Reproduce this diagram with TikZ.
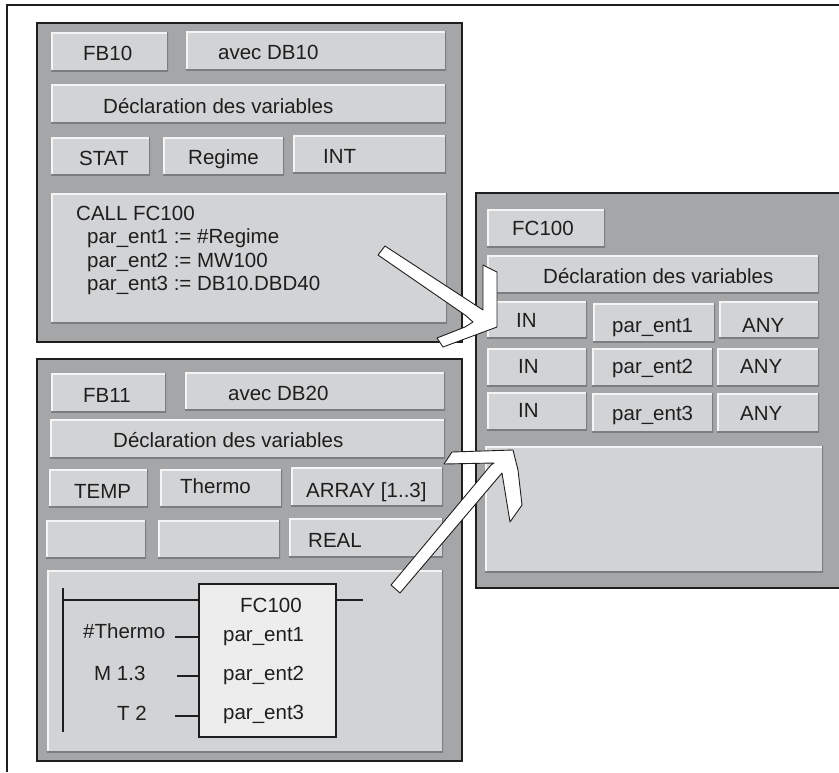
\documentclass[tikz,border=0pt]{standalone}
\usepackage{fontspec}
\setmainfont{Liberation Sans}
\usetikzlibrary{fit}
\definecolor{panelfill}{HTML}{A5A6A8}
\definecolor{btnfill}{HTML}{D2D3D5}
\definecolor{btnhl}{HTML}{F4F4F4}
\definecolor{btnsh}{HTML}{7C7D7F}
\definecolor{ink}{HTML}{1E1E1E}
\definecolor{fcfill}{HTML}{EDEDED}
\begin{document}
\begin{tikzpicture}[x=1pt,y=-1pt,
  panel/.style={draw=ink, line width=1.6pt, fill=panelfill, inner sep=0pt, outer sep=0pt},
  btn/.style={fill=btnfill, inner sep=0pt, outer sep=0pt, path picture={
    \draw[btnhl, line width=3pt] (path picture bounding box.south west) -- (path picture bounding box.north west) -- (path picture bounding box.north east);
    \draw[btnsh, line width=3pt] (path picture bounding box.north east) -- (path picture bounding box.south east) -- (path picture bounding box.south west);}},
  lbl/.style={anchor=base west, inner sep=0pt, text=ink, font=\fontsize{20.5}{24}\selectfont},
  wire/.style={draw=ink, line width=1.3pt},
  fcbody/.style={draw=ink, line width=1.3pt, fill=fcfill, inner sep=0pt, outer sep=0pt},
  blockarrow/.style={fill=white, draw=ink, line width=0.9pt, line join=round}
]
\useasboundingbox (0,0) rectangle (839,772);
\fill[white] (0,0) rectangle (839,772);
\draw[ink, line width=2pt] (7,772) -- (7,5) -- (839,5);

% ---------- Panel FB10 ----------
\node[panel, fit={(37,23) (462,342)}] (p1) {};
\node[btn, fit={(51,32) (168,71)}] (fb10) {};
\node[btn, fit={(186,31) (446,70)}] (db10) {};
\node[btn, fit={(51,84) (446,123)}] (decl1) {};
\node[btn, fit={(51,137) (150,175)}] (stat) {};
\node[btn, fit={(163,137) (284,175)}] (regime) {};
\node[btn, fit={(293,135) (446,173)}] (int) {};
\node[btn, fit={(51,193) (447,323)}] (code1) {};
\node[lbl] (tfb10) at (83,60) {FB10};
\node[lbl] (tdb10) at (218,59) {avec DB10};
\node[lbl] (tdecl1) at (103,113) {Déclaration des variables};
\node[lbl] (tstat) at (79,165) {STAT};
\node[lbl] (tregime) at (188,164) {Regime};
\node[lbl] (tint) at (323,163) {INT};
\node[lbl] (tc1) at (76,220) {CALL FC100};
\node[lbl] (tc2) at (87,243) {par\_ent1 := \#Regime};
\node[lbl] (tc3) at (87,267) {par\_ent2 := MW100};
\node[lbl] (tc4) at (87,290) {par\_ent3 := DB10.DBD40};

% ---------- Panel FB11 ----------
\node[panel, fit={(37,359) (462,761)}] (p2) {};
\node[btn, fit={(51,373) (166,412)}] (fb11) {};
\node[btn, fit={(185,372) (445,410)}] (db20) {};
\node[btn, fit={(50,419) (445,458)}] (decl2) {};
\node[btn, fit={(49,469) (148,507)}] (temp) {};
\node[btn, fit={(160,469) (282,507)}] (thermo) {};
\node[btn, fit={(291,467) (443,506)}] (array) {};
\node[btn, fit={(46,520) (146,558)}] (empty1) {};
\node[btn, fit={(158,520) (280,558)}] (empty2) {};
\node[btn, fit={(289,518) (443,557)}] (real) {};
\node[btn, fit={(47,570) (443,752)}] (lad) {};
\node[lbl] (tfb11) at (83,402) {FB11};
\node[lbl] (tdb20) at (228,400) {avec DB20};
\node[lbl] (tdecl2) at (113,447) {Déclaration des variables};
\node[lbl] (ttemp) at (74,498) {TEMP};
\node[lbl] (tthermo) at (180,493) {Thermo};
\node[lbl] (tarray) at (306,497) {ARRAY [1..3]};
\node[lbl] (treal) at (308,547) {REAL};

% ladder network
\node[fcbody, fit={(199,584) (336,737)}] (fcbox) {};
\coordinate (railtop) at (63,588);
\coordinate (railbot) at (63,732);
\draw[wire] (railtop) -- (railbot);
\coordinate (r1) at (63,600);
\coordinate (out) at (363,600);
\draw[wire] (r1) -- (r1 -| fcbox.west);
\draw[wire] (fcbox.east |- out) -- (out);
\coordinate (i1) at (175,637);
\coordinate (i2) at (177,676);
\coordinate (i3) at (175,716);
\draw[wire] (i1) -- (i1 -| fcbox.west);
\draw[wire] (i2) -- (i2 -| fcbox.west);
\draw[wire] (i3) -- (i3 -| fcbox.west);
\node[lbl] (tfcb) at (240,612) {FC100};
\node[lbl] (tpb1) at (223,641) {par\_ent1};
\node[lbl] (tpb2) at (223,680) {par\_ent2};
\node[lbl] (tpb3) at (223,719) {par\_ent3};
\node[lbl] (tth) at (83,638) {\#Thermo};
\node[lbl] (tm13) at (94,680) {M 1.3};
\node[lbl] (tt2) at (117,720) {T 2};

% ---------- Panel FC100 ----------
\node[panel, fit={(476,193) (850,588)}] (p3) {};
\node[btn, fit={(487,209) (605,247)}] (fc100) {};
\node[btn, fit={(487,255) (819,293)}] (decl3) {};
\node[btn, fit={(487,301) (587,338)}] (in1) {};
\node[btn, fit={(593,303) (715,342)}] (pe1) {};
\node[btn, fit={(719,301) (819,338)}] (any1) {};
\node[btn, fit={(487,348) (587,386)}] (in2) {};
\node[btn, fit={(592,348) (713,386)}] (pe2) {};
\node[btn, fit={(717,348) (819,386)}] (any2) {};
\node[btn, fit={(487,392) (587,430)}] (in3) {};
\node[btn, fit={(592,393) (713,432)}] (pe3) {};
\node[btn, fit={(717,393) (819,432)}] (any3) {};
\node[btn, fit={(485,446) (823,572)}] (big) {};
\node[lbl] (tfc100) at (512,235) {FC100};
\node[lbl] (tdecl3) at (543,283) {Déclaration des variables};
\node[lbl] (tin1) at (516,327) {IN};
\node[lbl] (tpe1) at (612,332) {par\_ent1};
\node[lbl] (tany1) at (742,332) {ANY};
\node[lbl] (tin2) at (518,373) {IN};
\node[lbl] (tpe2) at (612,373) {par\_ent2};
\node[lbl] (tany2) at (740,373) {ANY};
\node[lbl] (tin3) at (518,417) {IN};
\node[lbl] (tpe3) at (612,420) {par\_ent3};
\node[lbl] (tany3) at (740,420) {ANY};

% ---------- block arrows ----------
\draw[blockarrow] (385,246) -- (483,310) -- (483,265) -- (497,272) -- (497,327)
  -- (443,347) -- (437,338) -- (465,327) -- (473,322) -- (465,315) -- (378,255) -- cycle;
\draw[blockarrow] (391,585) -- (491,465) -- (494,463) -- (444,464) -- (452,452)
  -- (513,450) -- (518,470) -- (522,505) -- (510,522) -- (502,473) -- (400,593) -- cycle;
\end{tikzpicture}
\end{document}
